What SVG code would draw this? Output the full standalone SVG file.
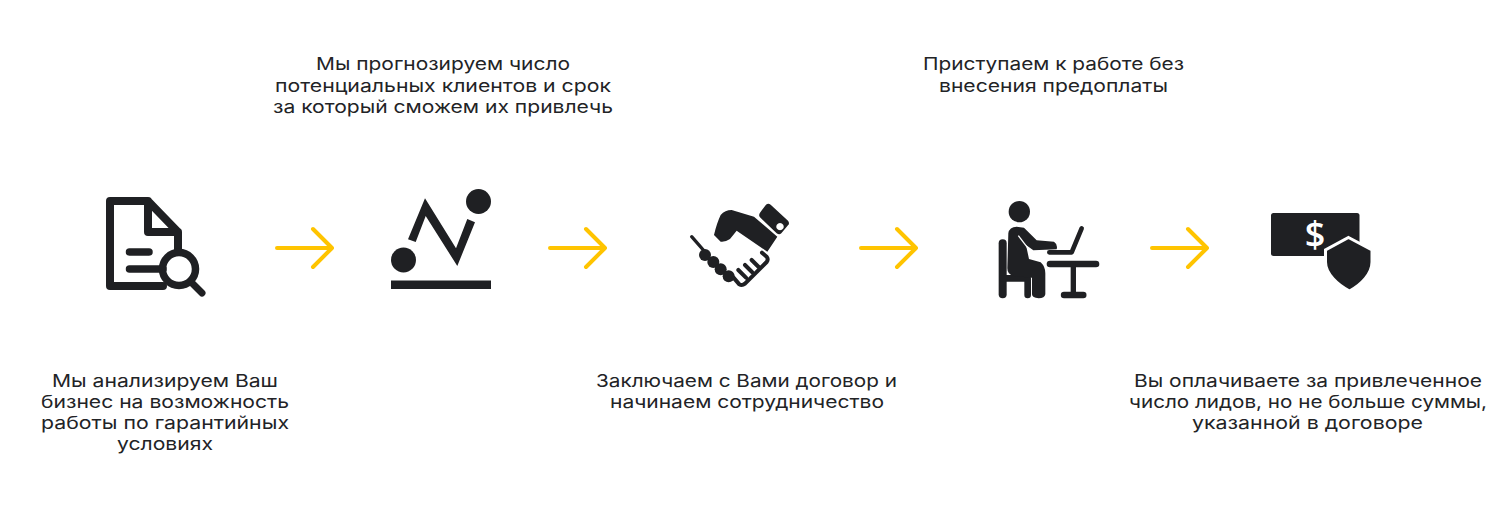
<svg xmlns="http://www.w3.org/2000/svg" width="1500" height="510" viewBox="0 0 1500 510">
<style>
.t{font-family:"Inter","Noto Sans","Liberation Sans",sans-serif;font-size:17.5px;fill:#222326;text-anchor:middle}
.d{fill:#1f2023}
.s{fill:none;stroke:#1f2023;stroke-linecap:round;stroke-linejoin:round}
.a{fill:none;stroke:#ffc400;stroke-width:4;stroke-linecap:round;stroke-linejoin:round}
</style>
<defs><g id="arrow"><path class="a" d="M0 248H55M36 229L55 248L36 267"/></g></defs>
<rect width="1500" height="510" fill="#fff"/>
<g id="connectors">
<use href="#arrow" x="277"/><use href="#arrow" x="550"/><use href="#arrow" x="861"/><use href="#arrow" x="1152"/>
</g>
<g id="node-1">
<path class="s" stroke-width="8" d="M163 286H110V201H148L178 232V252M148 201V232H178"/>
<path class="s" stroke-width="7.500" d="M129.500 252H149M129.500 269H163"/>
<circle cx="179" cy="269" r="16.500" fill="none" stroke="#1f2023" stroke-width="7.500"/>
<path class="s" stroke-width="7" d="M192 283L202 293"/>
<text class="t" x="165" y="386.500" textLength="226" lengthAdjust="spacingAndGlyphs">Мы анализируем Ваш</text>
<text class="t" x="165" y="407.500" textLength="248" lengthAdjust="spacingAndGlyphs">бизнес на возможность</text>
<text class="t" x="165" y="428.500" textLength="248" lengthAdjust="spacingAndGlyphs">работы по гарантийных</text>
<text class="t" x="165" y="449.500" textLength="96" lengthAdjust="spacingAndGlyphs">условиях</text>
</g>
<g id="node-2">
<circle class="d" cx="478.500" cy="201.500" r="12.500"/>
<circle class="d" cx="403.500" cy="260" r="12.500"/>
<rect class="d" x="391" y="280.500" width="100" height="8.500"/>
<polygon class="d" points="408,239.300 425,198.300 456,248.300 467.300,219 475,222.300 457.300,266 425.700,216 415.700,242"/>
<text class="t" x="443" y="69.500" textLength="254" lengthAdjust="spacingAndGlyphs">Мы прогнозируем число</text>
<text class="t" x="443" y="91.500" textLength="336" lengthAdjust="spacingAndGlyphs">потенциальных клиентов и срок</text>
<text class="t" x="443" y="112.500" textLength="340" lengthAdjust="spacingAndGlyphs">за который сможем их привлечь</text>
</g>
<g id="node-3">
<g transform="translate(680 190) scale(.3333)">
<path class="d" fill-rule="evenodd" d="M258 44Q265 38 272 44L324 92Q330 100 324 106L304 130Q298 136 290 130L240 82Q235 76 240 68ZM300 99a11 11 0 1 0 .1 0Z"/>
<path class="d" d="M122 75Q135 60 155 60L222 80L292 140L262 185L170 122L150 147Q135 157 122 155L102 135Q110 100 122 75Z"/>
<path class="s" stroke-width="10" d="M35 140L70 180"/>
<g class="d"><circle cx="75" cy="195" r="18"/><circle cx="100" cy="216" r="18"/><circle cx="122" cy="238" r="18"/><circle cx="146" cy="259" r="18"/></g>
<path class="s" stroke-width="12" d="M160 262L178 283Q186 288 195 281L260 216Q266 208 260 200L246 188M175 240L198 263M195 225L216 246M215 210L236 231"/>
</g>
<text class="t" x="746.500" y="386.500" textLength="301" lengthAdjust="spacingAndGlyphs">Заключаем с Вами договор и</text>
<text class="t" x="747" y="407.500" textLength="274" lengthAdjust="spacingAndGlyphs">начинаем сотрудничество</text>
</g>
<g id="node-4">
<g transform="translate(990 195) scale(.3333)">
<circle class="d" cx="88" cy="50" r="32"/>
<path class="s" stroke-width="24" d="M38 145V298"/>
<path class="s" stroke-width="20" d="M38 250H113V300"/>
<path class="d" d="M55 115Q58 95 80 95L102 98L140 136L192 140Q204 148 200 163L130 166L108 150L117 192L152 202Q166 215 166 235V298Q164 310 146 310Q126 308 126 298V248L70 243Q52 238 52 220Z"/>
<path fill="none" stroke="#fff" stroke-width="4" d="M85 122L128 178"/>
<path class="s" stroke-width="14" d="M275 100L245 172H178"/>
<path class="s" stroke-width="20" d="M180 207H318"/>
<path class="s" stroke-width="16" d="M250 207V295"/>
<path class="s" stroke-width="19" d="M222 300H280"/>
</g>
<text class="t" x="1053.500" y="69.500" textLength="261" lengthAdjust="spacingAndGlyphs">Приступаем к работе без</text>
<text class="t" x="1053.500" y="91.500" textLength="229" lengthAdjust="spacingAndGlyphs">внесения предоплаты</text>
</g>
<g id="node-5">
<rect class="d" x="1271" y="213" width="88.500" height="43" rx="2.500"/>
<text x="1315" y="247" text-anchor="middle" font-family="Open Sans, sans-serif" font-size="36" font-weight="600" fill="#fff">$</text>
<path class="d" stroke="#fff" stroke-width="3" d="M1348.500 237.500L1372 250V262C1372 274 1361 285 1349.500 291C1338 285 1325.500 274 1325.500 262V250Z"/>
<text class="t" x="1308" y="386.500" textLength="348" lengthAdjust="spacingAndGlyphs">Вы оплачиваете за привлеченное</text>
<text class="t" x="1308" y="407.500" textLength="358" lengthAdjust="spacingAndGlyphs">число лидов, но не больше суммы,</text>
<text class="t" x="1307.500" y="428.500" textLength="231" lengthAdjust="spacingAndGlyphs">указанной в договоре</text>
</g>
</svg>
